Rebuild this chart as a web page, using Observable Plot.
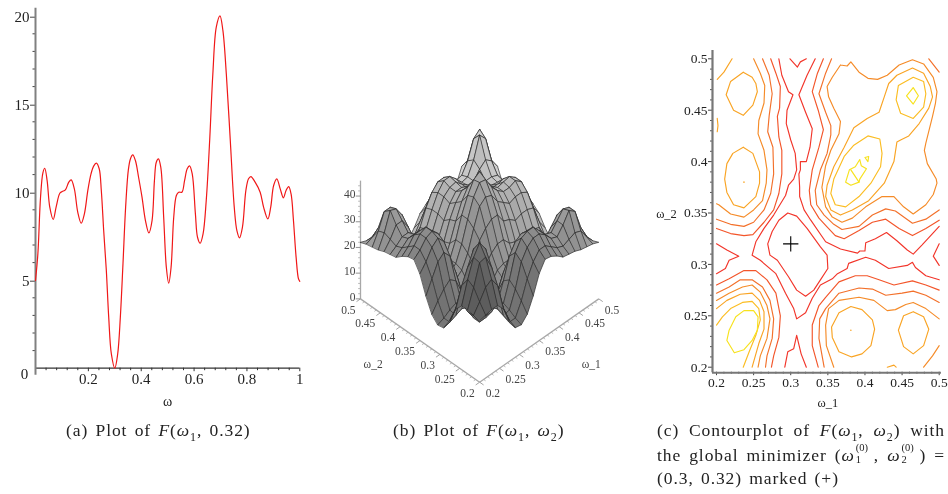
<!DOCTYPE html>
<html><head><meta charset="utf-8">
<script src="https://cdn.jsdelivr.net/npm/d3@7"></script>
<script src="https://cdn.jsdelivr.net/npm/@observablehq/plot@0.6"></script>
<style>
html,body{margin:0;padding:0;background:#fff;width:948px;height:494px;overflow:hidden}
#page{position:relative;width:948px;height:494px;font-family:"Liberation Serif",serif;color:#222}
.panel{position:absolute;filter:blur(.3px)}
.panel svg{display:block;background:transparent;overflow:visible}
.cap{position:absolute;font-family:"Liberation Serif",serif;font-size:17.5px;line-height:20px;color:#222;white-space:nowrap;letter-spacing:.92px;word-spacing:2px;filter:blur(.25px)}
.cap sub{font-size:12px;line-height:0}
.just{text-align:justify;text-align-last:justify;white-space:normal}
.stack{display:inline-block;position:relative;width:19px;height:14px}
.stack b{position:absolute;left:1px;font-weight:normal;font-size:10.5px;line-height:10.5px;letter-spacing:0}
</style></head><body><div id="page">
<div class="panel" id="a" style="left:0;top:0"></div>
<div class="panel" id="b" style="left:320px;top:110px;filter:blur(.4px)"></div>
<div class="panel" id="c" style="left:650px;top:40px"></div>
<div class="cap" style="left:66px;top:420px">(a) Plot of <i>F</i>(<i>ω</i><sub>1</sub>, 0.32)</div>
<div class="cap" style="left:393px;top:420px">(b) Plot of <i>F</i>(<i>ω</i><sub>1</sub>, <i>ω</i><sub>2</sub>)</div>
<div class="cap just" style="left:657px;top:420px;width:288px">(c) Contourplot of <i>F</i>(<i>ω</i><sub>1</sub>, <i>ω</i><sub>2</sub>) with</div>
<div class="cap just" style="left:657px;top:445px;width:288px">the global minimizer (<i>ω</i><span class="stack"><b style="top:-4px">(0)</b><b style="top:8px">1</b></span>, <i>ω</i><span class="stack"><b style="top:-4px">(0)</b><b style="top:8px">2</b></span>) =</div>
<div class="cap" style="left:657px;top:468px">(0.3, 0.32) marked (+)</div>
</div>
<script>
// ---------- Panel (a): F(omega_1, 0.32) ----------
const omega = [0,.009,.019,.028,.035,.044,.054,.067,.078,.092,.101,.113,.126,.135,.147,.16,.173,.185,.198,.21,.22,.23,.241,.249,.258,.268,.277,.287,.3,.311,.321,.331,.341,.351,.359,.368,.378,.39,.403,.416,.429,.441,.45,.457,.465,.474,.485,.495,.504,.513,.523,.533,.542,.554,.564,.574,.583,.593,.605,.613,.623,.634,.646,.659,.671,.684,.698,.709,.722,.737,.752,.762,.772,.783,.796,.806,.815,.831,.85,.863,.879,.89,.901,.913,.926,.938,.948,.958,.967,.976,.986,.995,1];
const Fvalues = [4.98,6.5,9.7,11.1,11.36,10.66,9.15,8.45,9.15,9.94,10.04,10.13,10.57,10.7,10.19,8.86,8.24,8.77,10.1,11.04,11.48,11.65,11.33,10.1,7.82,5.55,2.9,.81,0,.81,2.9,5.93,9.15,11.23,11.89,12.12,11.8,10.85,9.72,8.39,7.69,8.39,10.66,11.7,11.89,11.42,8.58,5.74,4.83,5.74,8.58,9.81,10,10,10.66,11.33,11.5,11.04,8.77,7.44,7.1,7.63,9.53,12.94,16.72,19.38,20.02,19.19,16.72,12.94,9.15,7.82,7.41,8.01,10.1,10.76,10.89,10.57,10,9.15,8.48,9.15,10.38,10.76,10.19,9.68,10.1,10.32,9.9,8.39,6.31,5.08,4.94];
const aXMajor = [.2,.4,.6,.8,1];
const aXMinor = [.04,.08,.12,.16,.24,.28,.32,.36,.44,.48,.52,.56,.64,.68,.72,.76,.84,.88,.92,.96];
const aYMajor = [5,10,15,20];
const aYMinor = [1,2,3,4,6,7,8,9,11,12,13,14,16,17,18,19];

// ---------- Panel (b): surface heights, lower triangle (rows omega_2, columns omega_1) ----------
const meshOmega = [.2,.215,.23,.245,.26,.275,.29,.305,.32,.335,.35,.365,.38,.395,.41,.425,.44,.455,.47,.485,.5];
const meshHeights = [
[24],
[24.5,28],
[25,32,40],
[25,33.5,40.5,44.5],
[22,29.5,35,40.5,40],
[16,19,24,27,25,16],
[11.5,12,13,14,13,8,4],
[11,12,13.5,14.5,13,8,4,5],
[13.5,17,20,22,20,14,7,8,13],
[19,24,29,31,28,20,11,13,18,26],
[26,29,33,35,32,23,14,16,21,29,36],
[30,32,35,36,33.5,24,15,17,23,31,38,42],
[29.5,32,35,36,33,24,14.5,17,23,31,37,41.5,43],
[28,30,33,33,29,20,12,14,20,27,33,37,37,36],
[26,28,30,30,26,17,10,11,19,26,31,34,34,32,30],
[25.5,27,29,29,25,16,9,10,18,24,29,32,32,30,28,26],
[25,28,32,32,28,18,11,12,19,25,30,32,32.5,30,28,28,31],
[24,29,36,35,31,20,14,15,19,25,30,33,33,30.5,27.5,28,33,41],
[23.5,28,34,34,30,20,13,14,18,24,28.5,31,31,29,26.5,27,31,38,40],
[23,24,26,27,24,15,9,10,13,17,21,24,25,22,20,20,22,28,28.5,20],
[22,21,21,22,19,12,7,8,10,13,17,19,20,18,16,16,18,24,24,16,12]
];
const floorMajor = [.2,.25,.3,.35,.4,.45,.5];
const floorLabels = ["0.2","0.25","0.3","0.35","0.4","0.45","0.5"];
const floorMinor = d3.range(21,50).filter(d=>d%5!==0).map(d=>d/100);
const zMajor = [0,10,20,30,40];
const zMinor = [2,4,6,8,12,14,16,18,22,24,26,28,32,34,36,38,42,44];

// ---------- Panel (c): contour polylines, values in thousandths of omega ----------
const level1 = [
[[284,500],[288,484],[297,468],[303,465],[295,450],[294,437],[300,421],[306,408],[308,392],[304,383],[297,377],[293,367],[277,348],[264,335],[253,322],[248,309],[259,304],[280,291],[293,272],[304,257],[308,247],[320,253],[329,267],[340,280],[356,286],[363,291],[376,296],[378,301],[401,307],[414,304],[432,296],[457,299],[464,302],[468,297],[482,289],[500,285]],
[[299,500],[309,492],[313,497],[321,500]],
[[333,500],[322,484],[311,465],[320,448],[329,432],[326,414],[321,400],[313,400],[313,392],[311,388],[312,375],[312,366],[318,353],[327,343],[347,322],[367,315],[390,311],[393,313],[400,313],[401,321],[414,325],[429,331],[443,323],[457,314],[465,310],[477,319],[491,330],[500,337]],
[[296,350],[308,347],[322,335],[340,317],[349,309],[350,296],[340,285],[331,275],[320,269],[308,275],[297,288],[282,304],[272,309],[269,320],[275,332],[284,343],[296,350]],
[[200,320],[214,314],[230,308],[217,304],[212,296],[200,291]],
[[500,320],[492,308],[500,299]],
[[292,200],[296,215],[304,218],[308,231],[314,213],[321,200]]
];
const level2 = [
[[273,500],[280,486],[286,473],[285,452],[282,444],[284,424],[288,411],[288,388],[284,369],[277,353],[264,341],[249,329],[237,328],[219,330],[200,335]],
[[344,500],[336,486],[329,468],[337,450],[344,431],[338,414],[329,392],[325,372],[327,358],[338,345],[347,338],[360,328],[372,325],[392,333],[410,341],[428,344],[446,335],[464,328],[482,335],[500,343]],
[[337,200],[329,221],[329,241],[338,260],[347,268],[365,283],[387,289],[403,289],[419,285],[439,280],[464,284],[482,280],[500,275]],
[[200,280],[217,286],[237,294],[253,294],[268,285],[280,272],[286,250],[284,229],[277,211],[274,200]]
];
const level3 = [
[[262,500],[271,484],[275,466],[271,445],[269,429],[276,414],[277,388],[273,369],[264,353],[250,341],[237,337],[219,339],[200,344]],
[[355,500],[347,486],[338,466],[347,448],[354,435],[354,426],[349,408],[340,392],[333,372],[335,358],[345,348],[358,339],[369,334],[392,337],[410,348],[428,354],[441,352],[464,340],[482,344],[500,353]],
[[345,200],[338,228],[339,247],[347,257],[365,272],[392,277],[410,276],[428,270],[450,272],[465,274],[482,270],[500,263]],
[[200,272],[217,278],[232,285],[248,285],[262,278],[272,265],[277,247],[275,228],[268,211],[266,200]],
[[486,500],[500,487]]
];
const level4 = [
[[250,500],[259,486],[265,474],[264,457],[257,440],[256,427],[264,411],[268,392],[267,379],[262,362],[250,353],[237,346],[219,349],[203,358],[200,359]],
[[367,494],[376,493],[381,497],[392,487],[404,481],[417,480],[430,484],[446,494],[464,499],[479,495],[492,482],[497,468],[495,457],[491,444],[482,418],[480,411],[484,398],[496,383],[497,379],[492,368],[482,358],[465,349],[452,356],[439,366],[423,366],[401,356],[383,345],[369,341],[356,346],[347,356],[342,375],[347,396],[354,411],[365,427],[367,439],[358,452],[351,463],[349,473],[356,482],[367,494]],
[[358,200],[348,221],[347,241],[351,257],[365,265],[392,268],[412,265],[430,255],[441,256],[455,261],[465,263],[482,257],[500,247]],
[[200,265],[217,272],[235,278],[248,280],[259,273],[268,260],[272,247],[268,228],[259,211],[256,200]],
[[479,200],[491,211],[500,221]]
];
const level5 = [
[[201,480],[210,487],[221,500]],
[[236,487],[248,482],[253,476],[255,468],[249,455],[236,445],[223,450],[213,465],[219,478],[236,487]],
[[201,442],[202,435],[201,429]],
[[236,414],[249,408],[258,390],[258,379],[253,366],[237,355],[223,358],[214,370],[211,383],[214,398],[222,408],[236,414]],
[[464,491],[479,486],[488,473],[491,463],[486,452],[473,437],[459,425],[448,421],[443,419],[439,400],[426,379],[405,362],[383,353],[367,348],[354,353],[347,366],[349,377],[358,395],[372,414],[385,433],[403,442],[419,448],[426,463],[432,476],[443,484],[464,491]],
[[381,259],[396,256],[410,246],[413,237],[408,221],[396,213],[382,210],[365,215],[356,229],[355,239],[365,253],[381,259]],
[[465,254],[479,249],[486,237],[479,221],[465,213],[452,220],[445,236],[452,250],[465,254]],
[[430,200],[439,202],[442,200]],
[[200,257],[214,265],[232,271],[248,272],[258,265],[264,254],[264,237],[257,223],[248,200]]
];
const level6 = [
[[465,482],[479,478],[482,466],[479,453],[465,442],[448,447],[442,460],[445,474],[465,482]],
[[404,425],[420,422],[423,408],[421,395],[408,379],[392,366],[374,356],[360,358],[354,369],[358,383],[372,405],[385,416],[404,425]],
[[200,241],[208,249],[219,257],[235,263],[248,264],[257,257],[259,246],[253,231],[244,215],[236,200]]
];
const level7 = [
[[465,472],[472,464],[465,456],[456,464],[465,472]],
[[393,402],[395,396],[402,393],[393,383],[392,380],[381,377],[374,380],[379,392],[387,395],[393,402]],
[[381,392],[392,380]],
[[400,404],[405,405],[404,400],[400,404]],
[[237,255],[250,255],[256,249],[255,236],[248,226],[237,217],[224,214],[214,226],[217,236],[226,249],[237,255]]
];
const levelColors = ["#f2352a","#f3552a","#f3702a","#f58b28","#f9a424","#fbbd22","#f7e21e"];
const contourDots = [[.237,.380],[.381,.236]];
const minimizer = [[.3,.32]];
const cMajor = [.2,.25,.3,.35,.4,.45,.5];
const cMinor = d3.range(20,50).filter(d=>d%5!==0).map(d=>d/100);

const serif = "Liberation Serif, serif";

// ---------- draw (a) ----------
const aRows = omega.map((w,i)=>({w,f:Fvalues[i]}));
document.getElementById("a").append(Plot.plot({
  width:320,height:400,marginLeft:35,marginRight:20.7,marginTop:15.7,marginBottom:32.3,
  style:{fontFamily:serif,fontSize:"15px",color:"#222",background:"transparent"},
  x:{domain:[0,1]},y:{domain:[0,20]},
  marks:[
    Plot.axisX({ticks:aXMinor,tickSize:2.5,stroke:"#333",text:null,label:null}),
    Plot.axisX({ticks:aXMajor,tickSize:3.5,stroke:"#333",tickPadding:2,fontSize:15,tickFormat:d=>String(d),label:null}),
    Plot.axisY({ticks:aYMinor,tickSize:2.5,stroke:"#444",text:null,label:null}),
    Plot.axisY({ticks:aYMajor,tickSize:5,stroke:"#444",tickPadding:1,fontSize:15,label:null,dy:1}),
    Plot.text(["0"],{x:0,y:0,text:d=>d,dx:-11,dy:6,fontSize:15,fill:"#222"}),
    Plot.ruleY([0],{stroke:"#333",strokeWidth:1.2}),
    Plot.ruleX([0],{y1:-.4,y2:20.45,stroke:"#808080",strokeWidth:2}),
    Plot.line(aRows,{x:"w",y:"f",stroke:"#f01818",strokeWidth:1.2,curve:"catmull-rom"}),
    Plot.text(["ω"],{x:.5,y:-1.9,text:d=>d,fontSize:14,fill:"#222"})
  ]
}));

// ---------- draw (b) ----------
const zScale = .00925;
const heightAt = (i,j)=> i<=j ? meshHeights[j][i] : meshHeights[i][j];
const U = (w1,w2)=>w1-w2;
const V = (w1,w2,z=0)=>w1+w2-.4+z*zScale;
const quads = [];
for(let i=0;i<20;i++) for(let j=0;j<20;j++) quads.push([i,j]);
quads.sort((p,q)=>(q[0]+q[1])-(p[0]+p[1]));
const meshRows = [];
quads.forEach(([i,j],n)=>{
  const slope = ((heightAt(i+1,j)-heightAt(i,j))+(heightAt(i+1,j+1)-heightAt(i,j+1))+(heightAt(i,j+1)-heightAt(i,j))+(heightAt(i+1,j+1)-heightAt(i+1,j)))/4;
  const shade = Math.max(62,Math.min(225,Math.round(100+3.2*(i+j)-2.6*slope)));
  const fill = `rgb(${shade},${shade},${shade})`;
  [[i,j],[i+1,j],[i+1,j+1],[i,j+1]].forEach(([a,b])=>{
    meshRows.push({id:n,u:U(meshOmega[a],meshOmega[b]),v:V(meshOmega[a],meshOmega[b],heightAt(a,b)),fill});
  });
});
const ticksOn2 = (list,d)=>list.map(w=>({x1:U(.2,w),y1:V(.2,w),x2:U(.2-d,w),y2:V(.2-d,w)}));
const ticksOn1 = (list,d)=>list.map(w=>({x1:U(w,.2),y1:V(w,.2),x2:U(w,.2-d),y2:V(w,.2-d)}));
const lx={x1:"x1",y1:"y1",x2:"x2",y2:"y2"};
document.getElementById("b").append(Plot.plot({
  width:300,height:300,margin:0,
  style:{fontFamily:serif,background:"transparent",overflow:"visible"},
  x:{domain:[-.3,.3],range:[40,278.3],axis:null},
  y:{domain:[0,.6],range:[271.7,105],axis:null},
  color:{type:"identity"},
  marks:[
    Plot.link([{x1:U(.2,.2),y1:V(.2,.2),x2:U(.2,.5),y2:V(.2,.5)},{x1:U(.2,.2),y1:V(.2,.2),x2:U(.5,.2),y2:V(.5,.2)}],{...lx,stroke:"#a8a8a8",strokeWidth:1.3}),
    Plot.link(ticksOn2(floorMinor,.005).concat(ticksOn1(floorMinor,.005)),{...lx,stroke:"#aaa",strokeWidth:.8}),
    Plot.link(ticksOn2(floorMajor,.01).concat(ticksOn1(floorMajor,.01)),{...lx,stroke:"#999",strokeWidth:.9}),
    Plot.link([{x1:U(.2,.5),y1:V(.2,.5),x2:U(.2,.5),y2:V(.2,.5,46)}],{...lx,stroke:"#a8a8a8",strokeWidth:1.3}),
    Plot.link(zMinor.map(z=>({x1:U(.2,.5),y1:V(.2,.5,z),x2:U(.2,.5)-.006,y2:V(.2,.5,z)})),{...lx,stroke:"#aaa",strokeWidth:.8}),
    Plot.link(zMajor.map(z=>({x1:U(.2,.5),y1:V(.2,.5,z),x2:U(.2,.5)-.012,y2:V(.2,.5,z)})),{...lx,stroke:"#888",strokeWidth:.9}),
    Plot.text(zMajor,{x:U(.2,.5),y:z=>V(.2,.5,z),text:d=>String(d),textAnchor:"end",dx:-5,dy:-2,fontSize:11.5,fill:"#444"}),
    Plot.text(floorMajor,{x:w=>U(.2,w),y:w=>V(.2,w),text:(d,i)=>floorLabels[i],textAnchor:"end",dx:-5,dy:11,fontSize:11.5,fill:"#444"}),
    Plot.text(floorMajor,{x:w=>U(w,.2),y:w=>V(w,.2),text:(d,i)=>floorLabels[i],textAnchor:"start",dx:6,dy:11,fontSize:11.5,fill:"#444"}),
    Plot.text(["ω_2"],{x:U(.2,.36),y:V(.2,.36),text:d=>d,dx:-43,dy:27,fontSize:11.5,fill:"#444"}),
    Plot.text(["ω_1"],{x:U(.36,.2),y:V(.36,.2),text:d=>d,dx:48,dy:27,fontSize:11.5,fill:"#444"}),
    Plot.line(meshRows,{x:"u",y:"v",z:"id",fill:"fill",stroke:"#2c2c2c",strokeWidth:.8,strokeOpacity:.85,curve:"linear-closed"})
  ]
}));

// ---------- draw (c) ----------
const contourRows = [];
[level1,level2,level3,level4,level5,level6,level7].forEach((lines,k)=>{
  lines.forEach((pts,n)=>pts.forEach(([a,b])=>contourRows.push({id:`${k}-${n}`,level:levelColors[k],a:a/1000,b:b/1000})));
});
document.getElementById("c").append(Plot.plot({
  width:298,height:370,marginLeft:66,marginRight:9.3,marginTop:18.3,marginBottom:43.3,
  style:{fontFamily:serif,fontSize:"13.5px",color:"#222",background:"transparent",overflow:"visible"},
  x:{domain:[.2,.5]},y:{domain:[.2,.5]},
  color:{type:"identity"},
  marks:[
    Plot.axisX({ticks:cMinor,tickSize:2,stroke:"#555",text:null,label:null,dy:5}),
    Plot.axisX({ticks:cMajor,tickSize:3.5,stroke:"#444",tickPadding:2,fontSize:13.5,tickFormat:d=>String(d),label:null,dy:5}),
    Plot.axisY({ticks:cMinor,tickSize:2,stroke:"#555",text:null,label:null,dx:-4}),
    Plot.axisY({ticks:cMajor,tickSize:4,stroke:"#444",tickPadding:1,fontSize:13.5,tickFormat:d=>String(d),label:null,dx:-4}),
    Plot.ruleX([.1946],{y1:.1946,y2:.508,stroke:"#777",strokeWidth:2.2}),
    Plot.ruleY([.1946],{x1:.1946,x2:.503,stroke:"#777",strokeWidth:2.2}),
    Plot.line(contourRows,{x:"a",y:"b",z:"id",stroke:"level",strokeWidth:1.15,curve:"linear"}),
    Plot.dot(contourDots,{x:d=>d[0],y:d=>d[1],r:.8,fill:levelColors[4],stroke:"none"}),
    Plot.dot(minimizer,{x:d=>d[0],y:d=>d[1],symbol:"plus",r:5,stroke:"#000",strokeWidth:1.1}),
    Plot.text(["ω_1"],{x:.35,y:.2,text:d=>d,dy:36,fontSize:12.5,fill:"#222"}),
    Plot.text(["ω_2"],{x:.2,y:.35,text:d=>d,dx:-50,dy:1,fontSize:12.5,fill:"#222"})
  ]
}));
</script></body></html>
